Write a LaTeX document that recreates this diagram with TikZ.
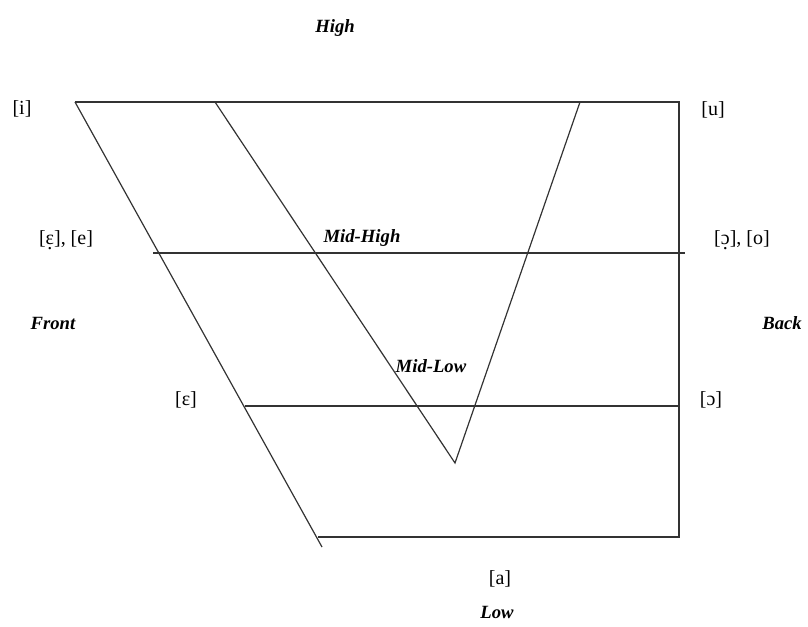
\documentclass[tikz,border=0pt]{standalone}
\usepackage{fontspec}
\setmainfont{Liberation Serif}
\usetikzlibrary{positioning}

\newcommand\dotunder[1]{{\oalign{#1\crcr\hidewidth.\hidewidth}}}

\begin{document}
\begin{tikzpicture}[
    x=0.75pt, y=-0.75pt,
    chartline/.style={draw=black!80, line width=0.9pt},
    sound/.style={font=\fontsize{15}{17}\selectfont, inner sep=0pt},
    level/.style={font=\fontsize{14}{16}\selectfont\bfseries\itshape, inner sep=0pt}
]
    \useasboundingbox (0,0) rectangle (808,627);

    % corners and ends of the lines
    \coordinate (hiFront)  at (75,102);
    \coordinate (hiBack)   at (679,102);
    \coordinate (loFront)  at (322,547);
    \coordinate (loStart)  at (318,537);
    \coordinate (loBack)   at (679,537);
    \coordinate (mhFront)  at (153,253);
    \coordinate (mhBack)   at (685,253);
    \coordinate (mlFront)  at (245,406);
    \coordinate (mlBack)   at (679,406);
    \coordinate (vLeft)    at (215,102);
    \coordinate (vTip)     at (455,463);
    \coordinate (vRight)   at (580,102);

    % the chart
    \draw[chartline] (hiFront) -- (hiBack) -- (loBack) -- (loStart);
    \draw[chartline] (hiFront) -- (loFront);
    \draw[chartline] (mhFront) -- (mhBack);
    \draw[chartline] (mlFront) -- (mlBack);
    \draw[chartline] (vLeft) -- (vTip) -- (vRight);

    % heights and sides
    \node[level] (high)    at (335,28)  {High};
    \node[level] (midHigh) at (362,238) {Mid-High};
    \node[level] (midLow)  at (431,366) {Mid-Low};
    \node[level] (low)     at (497,612) {Low};
    \node[level] (front)   at (53,323)  {Front};
    \node[level] (back)    at (782,323) {Back};

    % sounds
    \node[sound] (i)      at (22,109)  {[i]};
    \node[sound] (u)      at (713,110) {[u]};
    \node[sound] (eDot)   at (66,240)  {[\dotunder{ɛ}], [e]};
    \node[sound] (oDot)   at (742,240) {[\dotunder{ɔ}], [o]};
    \node[sound] (eOpen)  at (186,400) {[ɛ]};
    \node[sound] (oOpen)  at (711,400) {[ɔ]};
    \node[sound] (a)      at (500,579) {[a]};
\end{tikzpicture}
\end{document}
